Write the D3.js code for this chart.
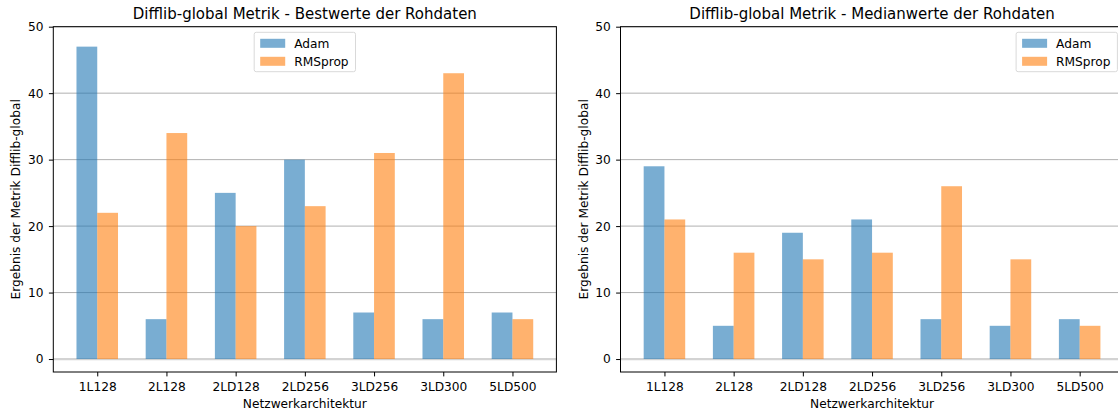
<!DOCTYPE html>
<html><head><meta charset="utf-8">
<script src="https://cdn.jsdelivr.net/npm/d3@7"></script>
<style>body{margin:0;background:#fff}svg{display:block}text{font-family:"DejaVu Sans",sans-serif;fill:#000}</style>
</head><body>
<svg id="c" width="1118" height="412"></svg>
<script>
const categories = ["1L128","2L128","2LD128","2LD256","3LD256","3LD300","5LD500"];
const seriesNames = ["Adam","RMSprop"];
const bestAdam = [47, 6, 25, 30, 7, 6, 7];
const bestRMSprop = [22, 34, 20, 23, 31, 43, 6];
const medianAdam = [29, 5, 19, 21, 6, 5, 6];
const medianRMSprop = [21, 16, 15, 16, 26, 15, 5];
const yTicks = [0, 10, 20, 30, 40, 50];
const titles = ["Difflib-global Metrik - Bestwerte der Rohdaten", "Difflib-global Metrik - Medianwerte der Rohdaten"];
const xLabel = "Netzwerkarchitektur";
const yLabel = "Ergebnis der Metrik Difflib-global";
const colors = ["rgba(31,119,180,0.6)", "rgba(255,127,14,0.6)"];

const svg = d3.select("#c");
const fs = 12.2;

function panel(left, right, legendPos, title, a, r) {
  const top = 26.7, bottom = 372;
  const g = svg.append("g");
  const x = d3.scaleLinear().domain([-0.635, 6.635]).range([left, right]);
  const y = d3.scaleLinear().domain([-1.95, 50]).range([bottom, top]);
  const bw = 0.3;
  // grid
  g.selectAll(".grid").data(yTicks).join("line")
    .attr("x1", left).attr("x2", right)
    .attr("y1", d => y(d)).attr("y2", d => y(d))
    .attr("stroke", "#b0b0b0").attr("stroke-width", 1);
  g.append("line").attr("x1", left).attr("x2", right).attr("y1", y(0)).attr("y2", y(0))
    .attr("stroke", "#d3d3d3").attr("stroke-width", 2.2);
  // bars
  [a, r].forEach((vals, si) => {
    g.selectAll(".b" + si).data(vals).join("rect")
      .attr("x", (d, i) => x(i + (si === 0 ? -bw : 0)))
      .attr("width", x(bw) - x(0))
      .attr("y", d => y(d))
      .attr("height", d => y(0) - y(d))
      .attr("fill", colors[si]);
  });
  // axes
  const xa = d3.axisBottom(x).tickValues(d3.range(categories.length)).tickFormat(i => categories[i]).tickSize(4.4).tickPadding(5.6).tickSizeOuter(0);
  const gx = g.append("g").attr("transform", `translate(0,${bottom})`).call(xa);
  gx.select(".domain").remove();
  const ya = d3.axisLeft(y).tickValues(yTicks).tickSize(4.4).tickPadding(5.4).tickSizeOuter(0);
  const gy = g.append("g").attr("transform", `translate(${left},0)`).call(ya);
  gy.select(".domain").remove();
  [gx, gy].forEach(ax => {
    ax.selectAll("text").attr("font-size", fs).attr("font-family", "DejaVu Sans").attr("fill", "#000");
    ax.selectAll("line").attr("stroke", "#000").attr("stroke-width", 1);
  });
  g.append("rect").attr("x", left).attr("y", top).attr("width", right - left).attr("height", bottom - top)
    .attr("fill", "none").attr("stroke", "#000").attr("stroke-width", 1);
  // titles
  g.append("text").attr("x", (left + right) / 2).attr("y", 19.2).attr("text-anchor", "middle")
    .attr("font-size", 15).text(title);
  g.append("text").attr("x", (left + right) / 2).attr("y", 408).attr("text-anchor", "middle")
    .attr("font-size", fs).text(xLabel);
  g.append("text").attr("transform", `translate(${left - 33},${(top + bottom) / 2}) rotate(-90)`)
    .attr("text-anchor", "middle").attr("font-size", fs).text(yLabel);
  // legend
  const lw = 101.3, lh = 39.4;
  const lx = legendPos === "center" ? (left + right) / 2 - lw / 2 : right - 6.2 - lw;
  const ly = 32.3;
  const lg = g.append("g").attr("transform", `translate(${lx},${ly})`);
  lg.append("rect").attr("width", lw).attr("height", lh).attr("rx", 2)
    .attr("fill", "rgba(255,255,255,0.8)").attr("stroke", "#d9d9d9").attr("stroke-width", 1);
  seriesNames.forEach((n, i) => {
    lg.append("rect").attr("x", 6).attr("y", 6.5 + i * 18).attr("width", 25).attr("height", 9).attr("fill", colors[i]);
    lg.append("text").attr("x", 40).attr("y", 15.5 + i * 18).attr("font-size", fs).text(n);
  });
}

panel(53.3, 556.4, "center", titles[0], bestAdam, bestRMSprop);
panel(620.5, 1123.6, "right", titles[1], medianAdam, medianRMSprop);
</script>
</body></html>
